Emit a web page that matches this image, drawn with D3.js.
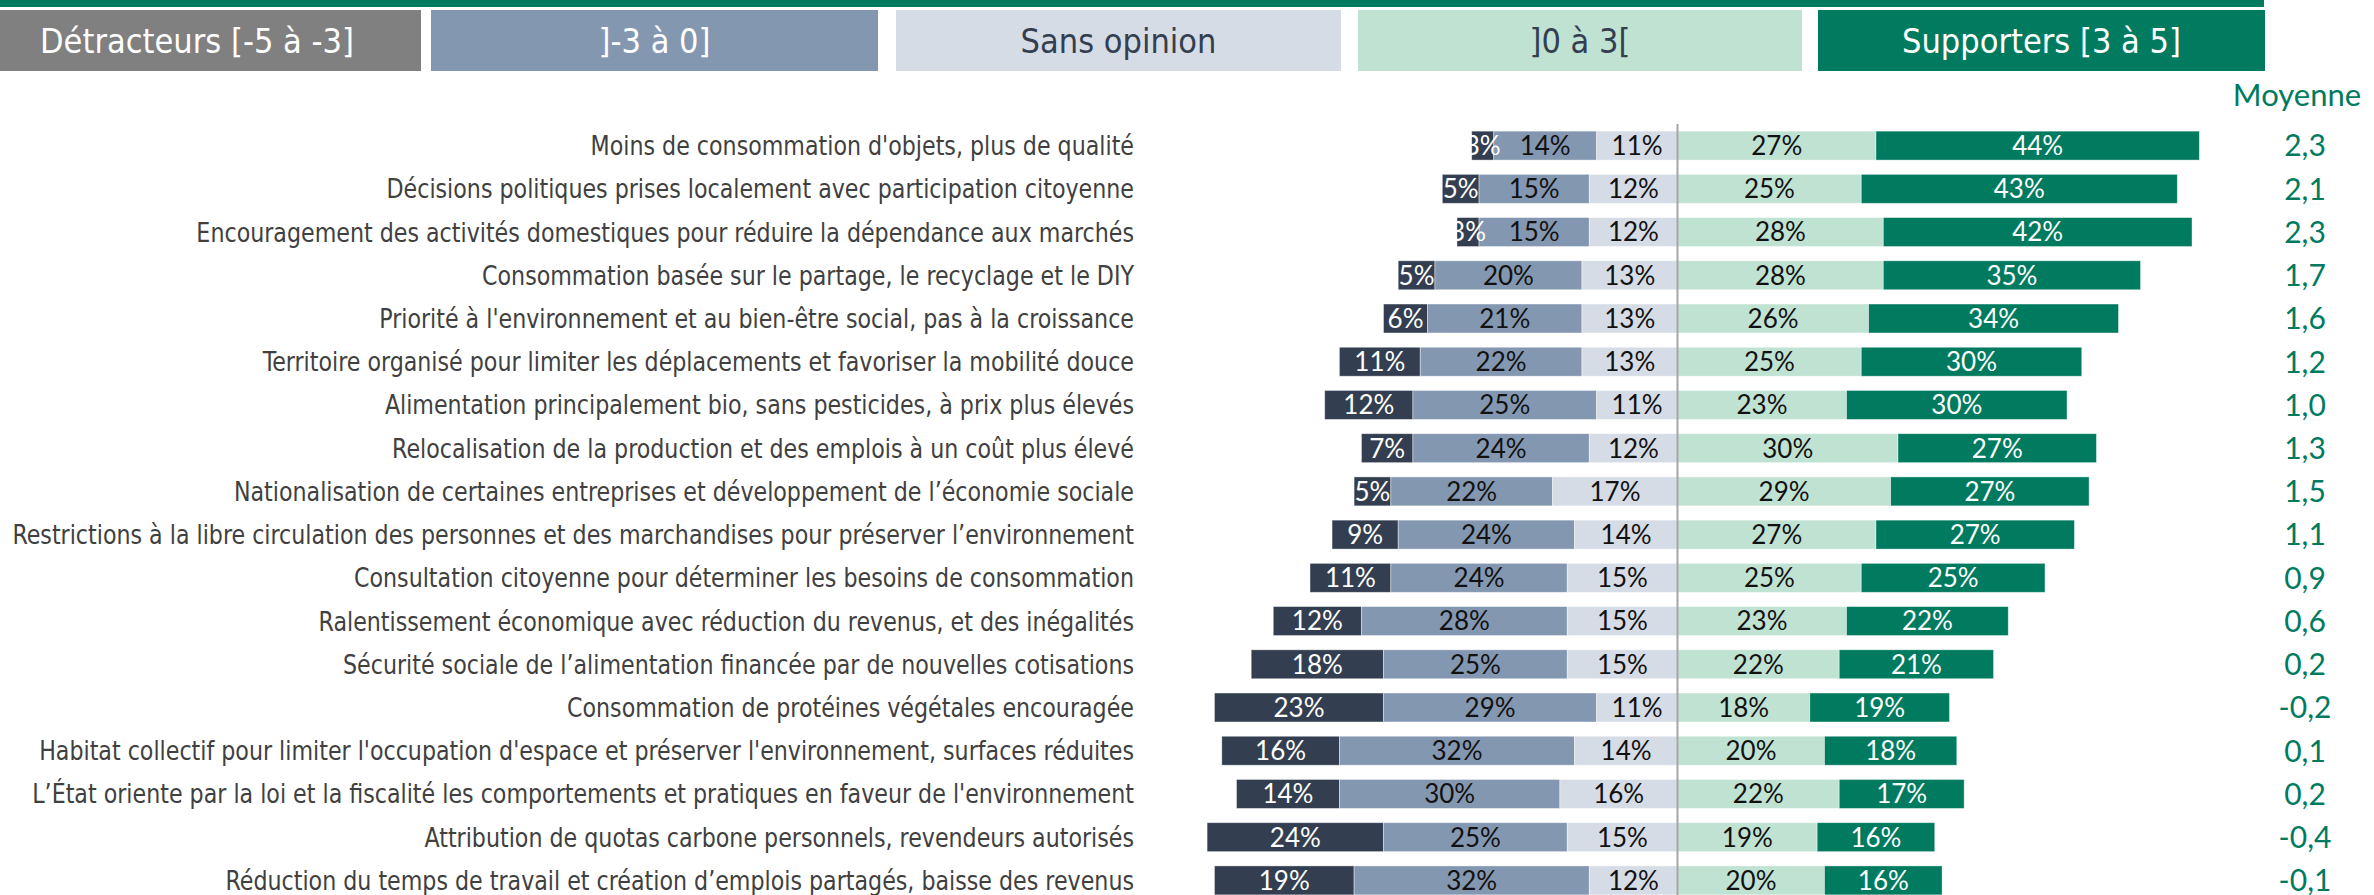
<!DOCTYPE html>
<html>
<head>
<meta charset="utf-8">
<script src="https://cdn.jsdelivr.net/npm/d3@7"></script>
<style>
  html, body { margin: 0; padding: 0; background: #fff; }
  svg { display: block; }
</style>
</head>
<body>
<div id="chart"></div>
<script>
const width = 2374, height = 895;

// --- données ---
const categories = [
  "Moins de consommation d'objets, plus de qualité",
  "Décisions politiques prises localement avec participation citoyenne",
  "Encouragement des activités domestiques pour réduire la dépendance aux marchés",
  "Consommation basée sur le partage, le recyclage et le DIY",
  "Priorité à l'environnement et au bien-être social, pas à la croissance",
  "Territoire organisé pour limiter les déplacements et favoriser la mobilité douce",
  "Alimentation principalement bio, sans pesticides, à prix plus élevés",
  "Relocalisation de la production et des emplois à un coût plus élevé",
  "Nationalisation de certaines entreprises et développement de l’économie sociale",
  "Restrictions à la libre circulation des personnes et des marchandises pour préserver l’environnement",
  "Consultation citoyenne pour déterminer les besoins de consommation",
  "Ralentissement économique avec réduction du revenus, et des inégalités",
  "Sécurité sociale de l’alimentation financée par de nouvelles cotisations",
  "Consommation de protéines végétales encouragée",
  "Habitat collectif pour limiter l'occupation d'espace et préserver l'environnement, surfaces réduites",
  "L’État oriente par la loi et la fiscalité les comportements et pratiques en faveur de l'environnement",
  "Attribution de quotas carbone personnels, revendeurs autorisés",
  "Réduction du temps de travail et création d’emplois partagés, baisse des revenus"
];
const detracteurs = [3, 5, 3, 5, 6, 11, 12, 7, 5, 9, 11, 12, 18, 23, 16, 14, 24, 19];
const negatifs    = [14, 15, 15, 20, 21, 22, 25, 24, 22, 24, 24, 28, 25, 29, 32, 30, 25, 32];
const neutres     = [11, 12, 12, 13, 13, 13, 11, 12, 17, 14, 15, 15, 15, 11, 14, 16, 15, 12];
const positifs    = [27, 25, 28, 28, 26, 25, 23, 30, 29, 27, 25, 23, 22, 18, 20, 22, 19, 20];
const supporters  = [44, 43, 42, 35, 34, 30, 30, 27, 27, 27, 25, 22, 21, 19, 18, 17, 16, 16];
const moyennes    = [2.3, 2.1, 2.3, 1.7, 1.6, 1.2, 1.0, 1.3, 1.5, 1.1, 0.9, 0.6, 0.2, -0.2, 0.1, 0.2, -0.4, -0.1];

const legendLabels = ["Détracteurs [-5 à -3]", "]-3 à 0]", "Sans opinion", "]0 à 3[", "Supporters [3 à 5]"];

// couleurs
const green = "#007B5F";
const legendFill = ["#808080", "#8497B0", "#D6DCE5", "#C0E2D2", green];
const legendText = ["#fff", "#fff", "#333F50", "#333F50", "#fff"];
const barFill = ["#333F50", "#8497B0", "#D6DCE5", "#C0E2D2", green];
const barText = ["#fff", "#111", "#111", "#111", "#fff"];

const labelFont = "'Liberation Sans Narrow', 'DejaVu Sans Condensed', 'Roboto', sans-serif";
const numFont = "'Lato', 'Open Sans', sans-serif";

const svg = d3.select("#chart").append("svg")
  .attr("width", width).attr("height", height);

// ligne verte en haut
svg.append("rect").attr("x", 0).attr("y", 0).attr("width", 2264).attr("height", 7).attr("fill", green);

// légende (bandeau de cases)
const boxes = [[-10, 421], [431, 878], [896, 1341], [1358, 1802], [1818, 2265]];
const lg = svg.append("g");
const legTexts = [];
boxes.forEach((b, i) => {
  lg.append("rect")
    .attr("x", b[0]).attr("y", 10)
    .attr("width", b[1] - b[0]).attr("height", 61)
    .attr("fill", legendFill[i]);
  const t = lg.append("g")
    .attr("data-cx", i === 0 ? 197 : (b[0] + b[1]) / 2);
  t.append("text")
    .attr("dy", "0.35em")
    .attr("text-anchor", "middle")
    .style("font-family", labelFont)
    .style("font-size", "34px")
    .style("fill", legendText[i])
    .text(legendLabels[i]);
  legTexts.push(t);
});

// échelles
const center = 1677.5;
const x = d3.scaleLinear().domain([-60, 60]).range([center - 60 * 7.35, center + 60 * 7.35]);
const y = d3.scaleBand().domain(categories).range([124, 902]).paddingInner(0.33).paddingOuter(0.165);

// segments
const segs = [];
categories.forEach((c, i) => {
  const n0 = neutres[i], n1 = n0 + negatifs[i], n2 = n1 + detracteurs[i];
  const p0 = positifs[i], p1 = p0 + supporters[i];
  segs.push({ c, k: 0, v: detracteurs[i], a: -n2, b: -n1 });
  segs.push({ c, k: 1, v: negatifs[i], a: -n1, b: -n0 });
  segs.push({ c, k: 2, v: neutres[i], a: -n0, b: 0 });
  segs.push({ c, k: 3, v: positifs[i], a: 0, b: p0 });
  segs.push({ c, k: 4, v: supporters[i], a: p0, b: p1 });
});

const g = svg.append("g");
g.selectAll("rect.seg").data(segs).enter().append("rect")
  .attr("class", "seg")
  .attr("x", d => x(d.a))
  .attr("y", d => y(d.c))
  .attr("width", d => x(d.b) - x(d.a))
  .attr("height", y.bandwidth())
  .attr("fill", d => barFill[d.k])
  .attr("stroke", "#fff").attr("stroke-width", 0.8).attr("stroke-opacity", 0.5);

// ligne centrale
svg.append("line")
  .attr("x1", center).attr("x2", center)
  .attr("y1", 124).attr("y2", height)
  .attr("stroke", "#A6A6A6").attr("stroke-width", 2);

g.selectAll("text.pct").data(segs).enter().append("text")
  .attr("class", "pct")
  .attr("x", d => (x(d.a) + x(d.b)) / 2)
  .attr("y", d => y(d.c) + y.bandwidth() / 2)
  .attr("dy", "0.36em")
  .attr("text-anchor", "middle")
  .style("font-family", numFont)
  .style("font-size", "26px")
  .style("fill", d => barText[d.k])
  .text(d => d.v + "%");

// libellés (police condensée : on resserre horizontalement pour tenir dans la largeur)
const labG = svg.append("g").selectAll("g").data(categories).enter().append("g");
const labT = labG.append("text")
  .attr("dy", "0.35em")
  .attr("text-anchor", "end")
  .style("font-family", labelFont)
  .style("font-size", "27px")
  .style("fill", "#404040")
  .text(d => d);

let maxW = 0;
labT.each(function() { maxW = Math.max(maxW, this.getComputedTextLength()); });
const sx = Math.min(1, 1122 / maxW);
labG.attr("transform", d => `translate(1134,${y(d) + y.bandwidth() / 2}) scale(${sx},1)`);

// texte de légende : même resserrement, largeur de "Détracteurs [-5 à -3]" ≈ 318px
const w0 = legTexts[0].select("text").node().getComputedTextLength();
const lsx = Math.min(1, 318 / w0);
legTexts.forEach(t => t.attr("transform", `translate(${t.attr("data-cx")},41) scale(${lsx},1)`));

// moyennes
svg.append("text")
  .attr("x", 2297).attr("y", 95)
  .attr("dy", "0.35em")
  .attr("text-anchor", "middle")
  .style("font-family", numFont)
  .style("font-size", "31px")
  .style("fill", green)
  .text("Moyenne");

const fmt = v => d3.format(".1f")(v).replace(".", ",").replace("−", "-");
svg.append("g").selectAll("text").data(categories).enter().append("text")
  .attr("x", 2305)
  .attr("y", d => y(d) + y.bandwidth() / 2)
  .attr("dy", "0.36em")
  .attr("text-anchor", "middle")
  .style("font-family", numFont)
  .style("font-size", "30px")
  .style("fill", green)
  .text((d, i) => fmt(moyennes[i]));
</script>
</body>
</html>
